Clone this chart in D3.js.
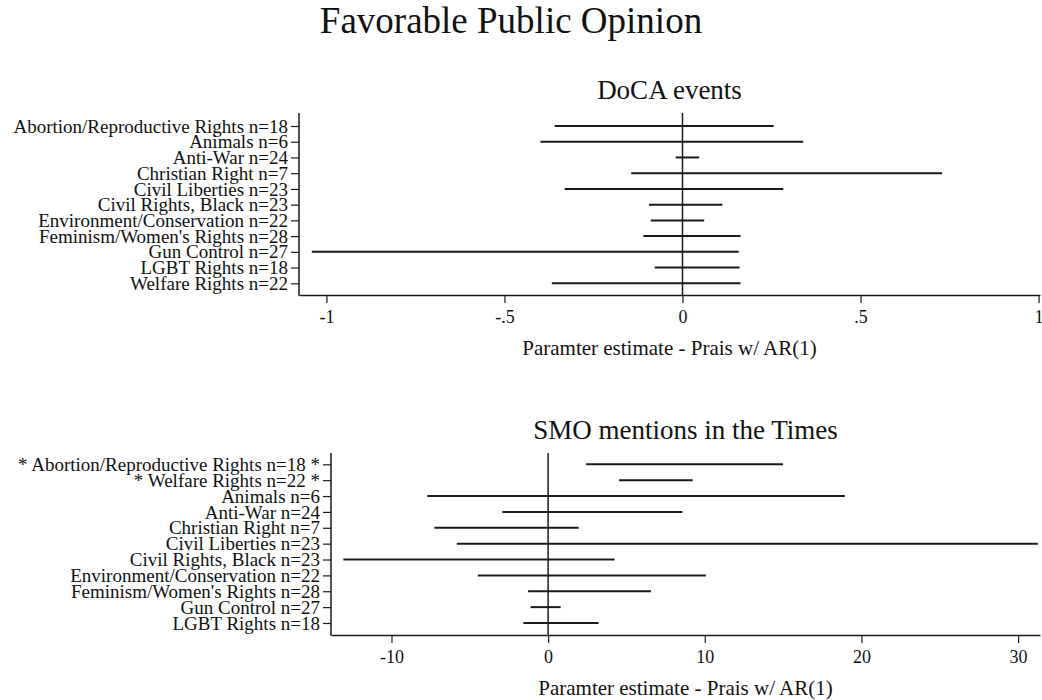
<!DOCTYPE html>
<html>
<head>
<meta charset="utf-8">
<script src="https://cdn.jsdelivr.net/npm/d3@7"></script>
<style>
  body { margin: 0; background: #fff; }
  svg { display: block; }
  text { font-family: "Liberation Serif", "Times New Roman", serif; fill: #111; }
</style>
</head>
<body>
<svg id="chart" width="1042" height="700"></svg>
<script>
// ---- Data: panel 1 (DoCA events) ----
const docaCategories = [
  "Abortion/Reproductive Rights n=18",
  "Animals n=6",
  "Anti-War n=24",
  "Christian Right n=7",
  "Civil Liberties n=23",
  "Civil Rights, Black n=23",
  "Environment/Conservation n=22",
  "Feminism/Women's Rights n=28",
  "Gun Control n=27",
  "LGBT Rights n=18",
  "Welfare Rights n=22"
];
const docaLower = [-0.359, -0.399, -0.019, -0.144, -0.331, -0.094, -0.089, -0.110, -1.041, -0.078, -0.367];
const docaUpper = [0.256, 0.339, 0.047, 0.729, 0.283, 0.112, 0.061, 0.163, 0.158, 0.160, 0.163];
const docaTicks = [-1, -0.5, 0, 0.5, 1];
const docaTickLabels = ["-1", "-.5", "0", ".5", "1"];
const docaDomain = [-1.077, 1.004];

// ---- Data: panel 2 (SMO mentions in the Times) ----
const smoCategories = [
  "* Abortion/Reproductive Rights n=18 *",
  "* Welfare Rights n=22 *",
  "Animals n=6",
  "Anti-War n=24",
  "Christian Right n=7",
  "Civil Liberties n=23",
  "Civil Rights, Black n=23",
  "Environment/Conservation n=22",
  "Feminism/Women's Rights n=28",
  "Gun Control n=27",
  "LGBT Rights n=18"
];
const smoLower = [2.43, 4.53, -7.71, -2.92, -7.26, -5.83, -13.07, -4.49, -1.28, -1.12, -1.58];
const smoUpper = [14.99, 9.23, 18.94, 8.57, 1.95, 31.26, 4.24, 10.07, 6.56, 0.80, 3.22];
const smoTicks = [-10, 0, 10, 20, 30];
const smoTickLabels = ["-10", "0", "10", "20", "30"];
const smoDomain = [-13.86, 31.4];

const mainTitle = "Favorable Public Opinion";
const xTitle = "Paramter estimate - Prais w/ AR(1)";

const svg = d3.select("#chart");
const ink = "#1a1a1a";
const serif = '"Liberation Serif", "Times New Roman", serif';

svg.append("text")
  .attr("x", 511).attr("y", 33)
  .attr("text-anchor", "middle")
  .style("font-size", "37px")
  .text(mainTitle);

function panel(cfg) {
  const { cats, lo, hi, ticks, tickLabels, domain, title,
          left, right, top, bottom, firstRow, lastRow, titleY, xTitleY } = cfg;
  const g = svg.append("g");
  const x = d3.scaleLinear().domain(domain).range([left, right]);
  const y = d3.scalePoint().domain(cats).range([firstRow, lastRow]);

  // panel title
  g.append("text")
    .attr("x", (left + right) / 2).attr("y", titleY)
    .attr("text-anchor", "middle")
    .style("font-size", "27px")
    .text(title);

  // x axis
  const xAxis = d3.axisBottom(x)
    .tickValues(ticks)
    .tickFormat((d, i) => tickLabels[i])
    .tickSizeOuter(0)
    .tickSizeInner(8)
    .tickPadding(7);
  const gx = g.append("g").attr("transform", `translate(0,${bottom})`).call(xAxis);
  gx.select(".domain").attr("stroke", ink).attr("stroke-width", 1.5);
  gx.selectAll(".tick line").attr("stroke", ink).attr("stroke-width", 1.2);
  gx.selectAll(".tick text")
    .style("font-family", serif)
    .style("font-size", "18px").attr("fill", ink);

  // y axis
  const yAxis = d3.axisLeft(y).tickSizeInner(8).tickSizeOuter(0).tickPadding(3);
  const gy = g.append("g").attr("transform", `translate(${left},0)`).call(yAxis);
  gy.select(".domain").remove();
  gy.selectAll(".tick line").attr("stroke", ink).attr("stroke-width", 1.2);
  gy.selectAll(".tick text")
    .style("font-family", serif)
    .style("font-size", "19px").attr("fill", ink);
  g.append("line")
    .attr("x1", left).attr("x2", left).attr("y1", top).attr("y2", bottom + 0.75)
    .attr("stroke", ink).attr("stroke-width", 1.5);

  // zero line
  g.append("line")
    .attr("x1", x(0)).attr("x2", x(0)).attr("y1", top).attr("y2", bottom)
    .attr("stroke", ink).attr("stroke-width", 1.5);

  // interval bars
  g.selectAll("line.ci")
    .data(cats)
    .join("line")
    .attr("class", "ci")
    .attr("x1", (d, i) => x(lo[i]))
    .attr("x2", (d, i) => x(hi[i]))
    .attr("y1", d => y(d))
    .attr("y2", d => y(d))
    .attr("stroke", ink)
    .attr("stroke-width", 2);

  // x title
  g.append("text")
    .attr("x", (left + right) / 2).attr("y", xTitleY)
    .attr("text-anchor", "middle")
    .style("font-size", "21px")
    .text(xTitle);
}

panel({
  cats: docaCategories, lo: docaLower, hi: docaUpper,
  ticks: docaTicks, tickLabels: docaTickLabels, domain: docaDomain,
  title: "DoCA events",
  left: 299, right: 1040, top: 113, bottom: 295,
  firstRow: 126, lastRow: 283.3, titleY: 99, xTitleY: 355
});

panel({
  cats: smoCategories, lo: smoLower, hi: smoUpper,
  ticks: smoTicks, tickLabels: smoTickLabels, domain: smoDomain,
  title: "SMO mentions in the Times",
  left: 331, right: 1040, top: 453, bottom: 635,
  firstRow: 464.3, lastRow: 623, titleY: 439, xTitleY: 695
});
</script>
</body>
</html>
